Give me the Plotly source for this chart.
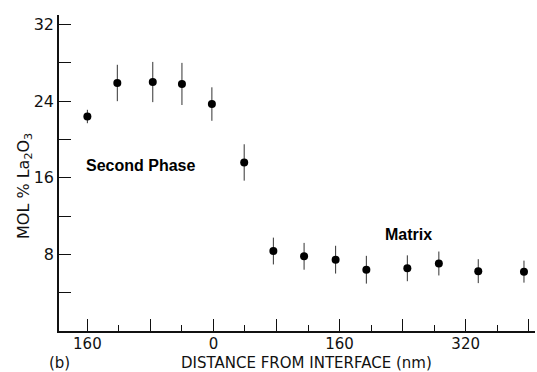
import plotly.graph_objects as go

# Data
distance_nm = [-160, -122, -77, -40, -2, 39, 76, 115, 155, 194, 246, 286, 336, 394]
mol_pct = [22.4, 25.9, 26.0, 25.8, 23.7, 17.6, 8.35, 7.8, 7.45, 6.4, 6.55, 7.05, 6.25, 6.2]
err = [0.7, 1.9, 2.1, 2.2, 1.75, 1.9, 1.4, 1.4, 1.45, 1.45, 1.35, 1.25, 1.25, 1.15]

x_tickvals = [-160, -80, 0, 80, 160, 240, 320, 400]
x_ticktext = ["160", "", "0", "", "160", "", "320", ""]
y_tickvals = [4, 8, 12, 16, 20, 24, 28, 32]
y_ticktext = ["", "8", "", "16", "", "24", "", "32"]

font_fam = "DejaVu Sans"
ink = "#111111"

fig = go.Figure()
fig.add_trace(go.Scatter(
    x=distance_nm, y=mol_pct, mode="markers",
    marker=dict(size=8, color="black"),
    error_y=dict(type="data", array=err, visible=True, width=0, thickness=1, color="#333333"),
    showlegend=False,
))

fig.update_layout(
    width=537, height=372,
    margin=dict(l=59, r=2, t=15, b=41),
    paper_bgcolor="white", plot_bgcolor="white",
    font=dict(family=font_fam, color=ink, size=15),
    xaxis=dict(
        range=[-196, 408], showgrid=False, zeroline=False,
        showline=True, linecolor=ink, linewidth=1.5,
        tickmode="array", tickvals=x_tickvals, ticktext=x_ticktext,
        ticks="inside", ticklen=12, tickwidth=1, tickcolor=ink,
        minor=dict(tick0=-160, dtick=40, ticks="inside", ticklen=6, tickwidth=1, tickcolor=ink),
        tickfont=dict(size=15, family=font_fam, color=ink),
        ticklabelstandoff=-2,
    ),
    yaxis=dict(
        range=[0, 33], showgrid=False, zeroline=False,
        showline=True, linecolor=ink, linewidth=1.5,
        tickmode="array", tickvals=y_tickvals, ticktext=y_ticktext,
        ticks="inside", ticklen=12, tickwidth=1, tickcolor=ink,
        tickfont=dict(size=16, family=font_fam, color=ink),
    ),
    annotations=[
        dict(text="MOL % La<sub>2</sub>O<sub>3</sub>", xref="paper", yref="paper",
             x=(24 - 59) / 476, y=(331 - 186) / 316, showarrow=False, textangle=-90,
             font=dict(size=16, family=font_fam, color=ink), xanchor="center", yanchor="middle"),
        dict(text="DISTANCE FROM INTERFACE (nm)", xref="paper", yref="paper",
             x=0.52, y=0, yshift=-32, showarrow=False,
             font=dict(size=15, family=font_fam, color=ink), xanchor="center", yanchor="middle"),
        dict(text="(b)", xref="paper", yref="paper",
             x=0, y=0, xshift=0, yshift=-32, showarrow=False,
             font=dict(size=15, family=font_fam, color=ink), xanchor="center", yanchor="middle"),
        dict(text="<b>Second Phase</b>", x=-93, y=17.3, xref="x", yref="y", showarrow=False,
             font=dict(size=16, family="Liberation Sans", color="black"), xanchor="center", yanchor="middle"),
        dict(text="<b>Matrix</b>", x=247, y=10.1, xref="x", yref="y", showarrow=False,
             font=dict(size=16, family="Liberation Sans", color="black"), xanchor="center", yanchor="middle"),
    ],
)

fig.write_html("out.html")
